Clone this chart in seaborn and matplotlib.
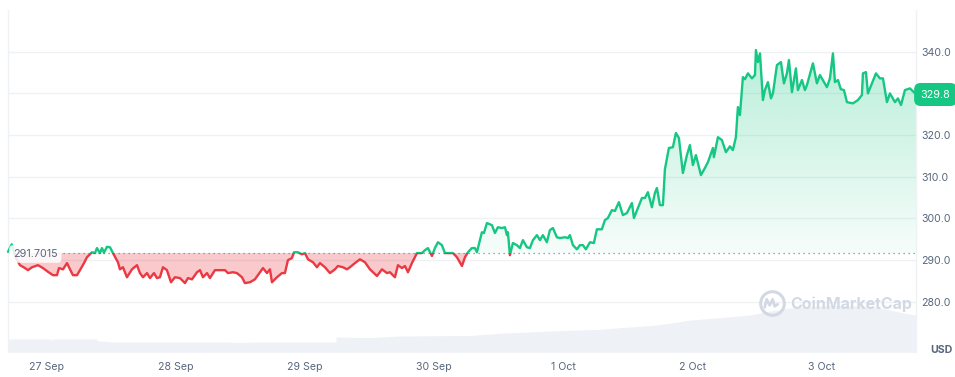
import matplotlib
matplotlib.use("Agg")
import matplotlib.pyplot as plt
import matplotlib.colors as mcolors
import numpy as np
import pandas as pd
import seaborn as sns
from matplotlib.patches import Rectangle
from matplotlib.path import Path
from matplotlib.lines import Line2D

# hours since 27 Sep 00:00, price in USD
hours = [-7.15, -6.46, -5.67, -4.92, -3.99, -3.44, -2.69, -1.58, -0.65, 0.28, 1.21, 1.95, 2.32, 3.07, 3.81,
         4.37, 4.92, 5.67, 6.22, 6.97, 7.52, 8.45, 9.01, 9.38, 9.94, 10.31, 10.68, 11.24, 11.80, 12.35,
         13.28, 13.65, 14.21, 14.95, 15.88, 16.81, 17.37, 17.93, 18.67, 19.23, 19.97, 20.53, 21.08, 21.64,
         22.38, 23.13, 23.87, 24.80, 25.73, 26.29, 27.03, 27.96, 28.52, 29.07, 29.82, 30.37, 31.30, 32.23,
         33.16, 33.72, 34.64, 35.39, 36.32, 36.87, 37.80, 38.73, 39.66, 40.22, 40.96, 41.52, 41.89, 42.82,
         43.75, 44.30, 44.86, 45.60, 45.98, 46.72, 47.46, 48.02, 48.58, 49.51, 50.25, 50.81, 51.74, 52.67,
         53.59, 54.15, 55.08, 55.82, 56.38, 57.31, 58.24, 59.17, 60.10, 61.40, 62.33, 63.26, 63.81, 64.74,
         65.30, 66.04, 66.60, 67.16, 67.90, 68.83, 69.76, 70.32, 70.87, 71.62, 72.17, 72.73, 73.47, 74.03,
         74.96, 75.52, 76.26, 77.19, 77.75, 78.30, 79.04, 79.60, 79.97, 80.90, 81.27, 81.83, 82.76, 83.32,
         83.87, 84.62, 85.18, 85.55, 85.73, 86.10, 86.66, 87.40, 87.96, 88.52, 89.26, 89.82, 90.38, 91.12,
         91.68, 92.23, 92.97, 93.53, 94.09, 94.83, 95.39, 96.32, 96.88, 97.25, 97.81, 98.55, 99.11, 99.67,
         100.22, 100.97, 101.70, 102.26, 103.19, 103.75, 104.30, 105.05, 105.61, 106.35, 107.09, 107.84,
         108.77, 109.14, 109.88, 110.63, 111.18, 111.74, 112.48, 113.04, 113.41, 113.97, 114.53, 114.90,
         115.64, 116.39, 116.94, 117.50, 118.24, 118.99, 119.54, 120.10, 120.66, 121.03, 121.59, 122.33,
         122.89, 123.82, 124.00, 124.75, 125.49, 126.23, 126.98, 127.53, 128.09, 128.46, 128.84, 129.39,
         129.77, 130.32, 131.07, 131.63, 131.81, 132.18, 132.56, 133.11, 133.48, 134.04, 134.60, 134.97,
         135.71, 136.46, 137.01, 137.57, 137.94, 138.50, 139.24, 139.61, 140.36, 140.91, 141.29, 142.40,
         143.14, 143.70, 145.00, 145.56, 146.12, 146.49, 147.05, 147.58, 148.16, 148.72, 149.83, 150.76,
         151.50, 151.69, 152.25, 152.62, 153.36, 154.11, 154.85, 155.41, 156.15, 156.71, 157.64, 158.20,
         158.76, 159.50, 160.43, 160.99, 161.55]
price = [292.0, 293.8, 290.5, 288.8, 288.1, 287.6, 288.3, 288.8, 288.1, 287.2, 286.4, 286.4, 288.1, 287.8, 289.3,
         287.8, 286.4, 286.4, 287.6, 289.3, 290.7, 291.9, 291.7, 292.9, 291.7, 292.9, 291.8, 293.2, 293.1, 291.7,
         289.5, 287.8, 288.3, 285.9, 287.8, 288.8, 286.9, 285.9, 286.9, 285.7, 286.9, 285.7, 285.9, 288.3,
         287.6, 284.7, 285.9, 285.7, 284.5, 285.7, 285.4, 287.1, 287.6, 285.9, 286.9, 285.7, 287.6, 287.6,
         287.6, 286.9, 287.1, 286.9, 285.9, 284.5, 284.7, 285.4, 287.1, 288.1, 286.9, 287.8, 284.7, 285.9,
         286.9, 286.9, 290.0, 290.5, 291.9, 291.9, 291.4, 291.7, 290.2, 289.5, 288.3, 289.3, 288.3, 286.9,
         287.8, 288.6, 288.3, 287.8, 288.3, 289.3, 290.2, 289.5, 287.8, 286.2, 287.8, 286.9, 287.1, 285.9,
         288.8, 288.1, 288.6, 287.1, 289.3, 291.7, 291.7, 292.4, 292.9, 291.0, 292.9, 294.3, 293.6, 291.7,
         291.7, 291.7, 290.7, 288.6, 290.7, 291.9, 292.9, 292.9, 291.9, 296.7, 296.5, 298.9, 298.4, 296.5,
         297.9, 297.7, 297.9, 296.0, 296.7, 291.2, 294.1, 293.6, 292.9, 294.8, 293.1, 292.9, 294.8, 296.0,
         294.8, 296.0, 294.3, 297.2, 297.7, 295.5, 295.3, 295.5, 295.3, 296.0, 293.6, 292.6, 293.6, 293.6,
         292.6, 294.3, 294.1, 297.4, 297.4, 299.6, 300.1, 302.0, 301.8, 303.9, 300.8, 301.3,
         303.7, 300.1, 302.5, 304.9, 304.9, 306.3, 302.7, 306.1, 307.3, 303.2, 303.2, 311.8,
         316.9, 317.1, 320.5, 319.3, 310.9, 315.2, 317.6, 312.8, 315.2, 313.3, 310.4, 312.1,
         313.5, 316.9, 314.7, 319.5, 318.8, 315.9, 317.3, 316.4, 319.5, 326.7, 324.8, 333.9,
         333.4, 334.8, 333.6, 334.4, 340.4, 337.5, 339.6, 328.4, 330.8, 332.7, 328.8, 330.0,
         336.8, 337.5, 332.4, 334.8, 338.0, 330.3, 336.0, 330.8, 333.2, 330.8, 332.0, 337.2,
         332.4, 334.4, 331.5, 333.6, 339.6, 332.7, 333.2, 331.0, 330.8, 327.9, 327.6, 328.4,
         329.6, 334.8, 335.1, 330.0, 332.4, 334.8, 333.6, 333.6, 327.9, 330.0, 327.9, 328.8,
         327.2, 330.8, 331.2, 330.5, 329.8]

# volume (arbitrary units); repeated hours mark sudden jumps
vol_hours = [-7.15, 0.65, 0.66, 1.02, 1.03, 9.38, 9.39, 12.72, 33.16, 35.94, 38.73, 53.78, 53.79, 60.09,
             65.67, 78.67, 84.24, 93.53, 102.82, 106.54, 112.11, 115.83, 119.54, 125.12, 130.69, 134.40,
             138.12, 145.55, 152.98, 156.70, 159.48, 161.55]
volume = [13.3, 13.3, 12.3, 12.3, 13.3, 13.3, 11.6, 10.3, 10.3, 9.6, 10.3, 10.3, 15.3, 14.6,
          16.3, 16.8, 19.0, 21.3, 23.0, 24.6, 26.6, 29.0, 32.3, 34.6, 37.3, 41.3,
          44.3, 46.8, 46.3, 42.3, 39.0, 37.3]

base_price = 291.7015
last_price = 329.8
day_hours = [0, 24, 48, 72, 96, 120, 144]
day_labels = ["27 Sep", "28 Sep", "29 Sep", "30 Sep", "1 Oct", "2 Oct", "3 Oct"]
y_ticks = [280, 290, 300, 310, 320, 330, 340]

GREEN = "#16c784"
RED = "#ea3943"
GREY = "#58667e"
GRID = "#eff2f5"

assert len(hours) == len(price), (len(hours), len(price))
assert len(vol_hours) == len(volume)
df = pd.DataFrame({"hour": hours, "price": price})

sns.set_theme(style="white")
plt.rcParams["font.family"] = ["Inter", "DejaVu Sans"]

W, H = 955, 377
fig = plt.figure(figsize=(W / 100, H / 100), dpi=100)
pos = [8 / W, (H - 352.3) / H, (916 - 8) / W, (352.3 - 10) / H]
ax_vol = fig.add_axes(pos)
ax = fig.add_axes(pos, sharex=ax_vol)
ax.patch.set_visible(False)

# volume in the background
ax_vol.fill_between(vol_hours, volume, color="#eef1f5", lw=0)
ax_vol.set_ylim(0, 342.3)
ax_vol.axis("off")

xmin, xmax = hours[0], hours[-1]

# fills
above = ax.fill_between(df.hour, df.price, base_price, where=df.price >= base_price,
                        interpolate=True, facecolor="none", edgecolor="none")
ax.fill_between(df.hour, df.price, base_price, where=df.price <= base_price,
                interpolate=True, facecolor=RED, alpha=0.27, lw=0, zorder=1)
grad = np.zeros((256, 1, 4))
grad[..., :3] = mcolors.to_rgb(GREEN)
grad[:, 0, 3] = np.linspace(0.04, 0.3, 256)
img = ax.imshow(grad, extent=[xmin, xmax, base_price, max(price)], origin="lower",
                aspect="auto", zorder=1, interpolation="bilinear")
img.set_clip_path(Path.make_compound_path(*above.get_paths()), ax.transData)

# price line, green above / red below the reference price
for color, y0, y1 in [(GREEN, base_price, 400), (RED, 200, base_price)]:
    sns.lineplot(data=df, x="hour", y="price", ax=ax, color=color, lw=1.7,
                 estimator=None, sort=False, zorder=3)
    line = ax.lines[-1]
    line.set_solid_joinstyle("round")
    clip = Rectangle((xmin - 10, y0), xmax - xmin + 20, y1 - y0, transform=ax.transData)
    line.set_clip_path(clip)

ax.axhline(base_price, color="#7d8797", lw=0.9, ls=(0, (1, 3)), zorder=2)

ax.set_xlim(xmin, xmax)
ax.set_ylim(267.9, 350)
ax.set_yticks(y_ticks)
ax.set_yticklabels([f"{v:.1f}" for v in y_ticks])
ax.yaxis.tick_right()
ax.set_xticks(day_hours)
ax.set_xticklabels(day_labels)
ax.set_xlabel("")
ax.set_ylabel("")
ax.yaxis.grid(True, color=GRID, lw=1)
ax.set_axisbelow(True)
ax.tick_params(axis="both", length=0, labelsize=7.6, colors=GREY)
ax.tick_params(axis="x", pad=7)
ax.tick_params(axis="y", pad=4)
for side in ["top", "bottom"]:
    ax.spines[side].set_visible(False)
for side in ["left", "right"]:
    ax.spines[side].set_color(GRID)
    ax.spines[side].set_linewidth(1)

# labels
fig.text(13 / W, (H - 254) / H, "291.7015", fontsize=7.8, color=GREY, ha="left", va="center",
         bbox=dict(boxstyle="round,pad=0.35", fc="white", ec="none", alpha=0.85))
fig.text(935.5 / W, (H - 94.5) / H, f"{last_price:.1f}", fontsize=7.8, color="white",
         ha="center", va="center",
         bbox=dict(boxstyle="round,pad=0.6", fc=GREEN, ec="none"))
fig.text(941 / W, (H - 350) / H, "USD", fontsize=7.6, color=GREY, weight="bold",
         ha="center", va="center")

# watermark
wm = "#d3d9e3"
fig.add_artist(Line2D([7.717], [(H - 303.3) / 100], transform=fig.dpi_scale_trans, marker="o",
                      ms=17, mfc="none", mec=wm, mew=2.2))
sq_x = np.array([-7, -5, -2, 1, 3, 6]) + 771.7
sq_y = np.array([-4, 4, -2, 4, -3, -1]) + (H - 303.3)
fig.add_artist(Line2D(sq_x / 100, sq_y / 100, transform=fig.dpi_scale_trans, color=wm, lw=2.0,
                      solid_joinstyle="round", solid_capstyle="round"))
fig.text(790 / W, (H - 304.5) / H, "CoinMarketCap", fontsize=11.5, color=wm, weight="bold",
         ha="left", va="center")

fig.savefig("out.png", dpi=100)
